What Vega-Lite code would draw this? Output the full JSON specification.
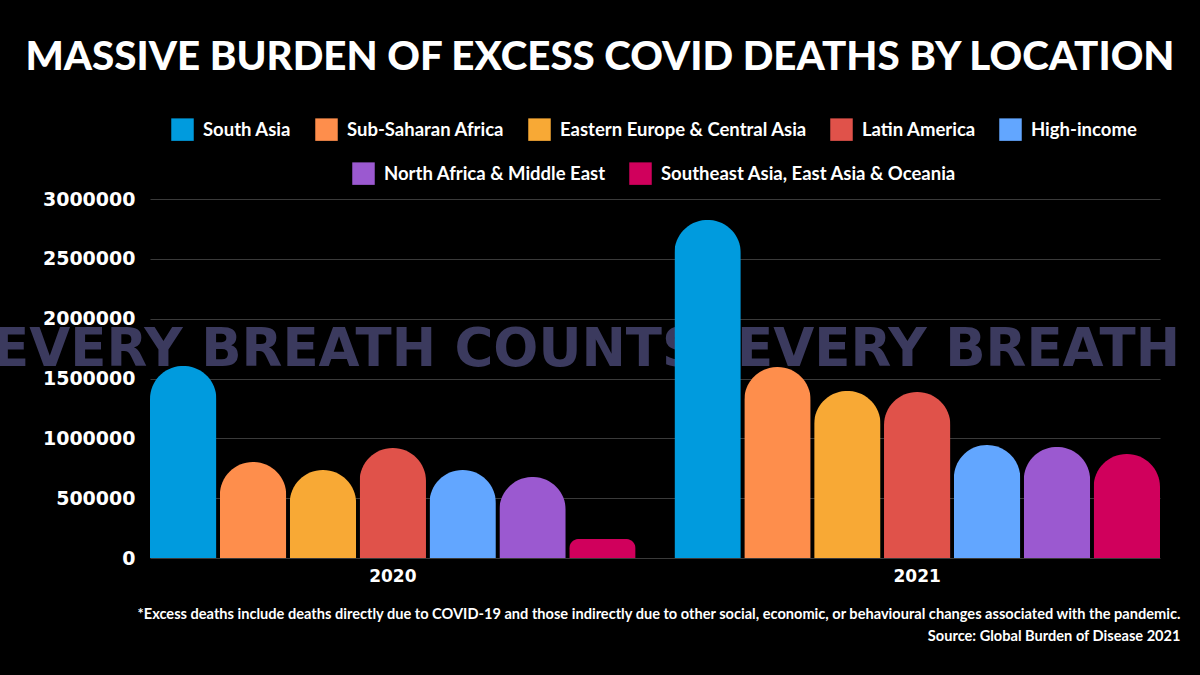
{
  "$schema": "https://vega.github.io/schema/vega-lite/v6.json",
  "width": 1010,
  "height": 359,
  "autosize": {"type": "none"},
  "padding": {"left": 150, "top": 199, "right": 40, "bottom": 117},
  "background": "#000000",
  "config": {"view": {"stroke": null}, "font": "Lato"},
  "title": {
    "text": "MASSIVE BURDEN OF EXCESS COVID DEATHS BY LOCATION",
    "font": "Lato",
    "fontWeight": 900,
    "fontSize": 40.3,
    "color": "#ffffff",
    "anchor": "middle",
    "frame": "group",
    "baseline": "middle",
    "dx": -55,
    "dy": -16
  },
  "data": {
    "values": [
      {"year": "2020", "region": "South Asia", "deaths": 1605000},
      {"year": "2020", "region": "Sub-Saharan Africa", "deaths": 802000},
      {"year": "2020", "region": "Eastern Europe & Central Asia", "deaths": 735000},
      {"year": "2020", "region": "Latin America", "deaths": 919000},
      {"year": "2020", "region": "High-income", "deaths": 735000},
      {"year": "2020", "region": "North Africa & Middle East", "deaths": 677000},
      {"year": "2020", "region": "Southeast Asia, East Asia & Oceania", "deaths": 159000},
      {"year": "2021", "region": "South Asia", "deaths": 2825000},
      {"year": "2021", "region": "Sub-Saharan Africa", "deaths": 1596000},
      {"year": "2021", "region": "Eastern Europe & Central Asia", "deaths": 1396000},
      {"year": "2021", "region": "Latin America", "deaths": 1387000},
      {"year": "2021", "region": "High-income", "deaths": 944000},
      {"year": "2021", "region": "North Africa & Middle East", "deaths": 928000},
      {"year": "2021", "region": "Southeast Asia, East Asia & Oceania", "deaths": 869000}
    ]
  },
  "encoding": {
    "x": {
      "field": "year",
      "type": "nominal",
      "scale": {"domain": ["2020", "2021"], "paddingInner": 0.074, "paddingOuter": 0},
      "axis": {
        "labelAngle": 0,
        "labelFont": "DejaVu Sans",
        "labelFontSize": 17,
        "labelFontWeight": "bold",
        "labelColor": "#ffffff",
        "labelPadding": 10,
        "ticks": false,
        "domain": false,
        "title": ["*Excess deaths include deaths directly due to COVID-19 and those indirectly due to other social, economic, or behavioural changes associated with the pandemic.", "Source: Global Burden of Disease 2021"],
        "titleFont": "Lato",
        "titleFontSize": 14.6,
        "titleFontWeight": "bold",
        "titleColor": "#ffffff",
        "titleAnchor": "end",
        "titleAlign": "right",
        "titleBaseline": "top",
        "titleLineHeight": 22,
        "titleX": 1030,
        "titleY": 48
      }
    },
    "y": {
      "field": "deaths",
      "type": "quantitative",
      "scale": {"domain": [0, 3000000], "nice": false},
      "axis": {
        "values": [0, 500000, 1000000, 1500000, 2000000, 2500000, 3000000],
        "format": "d",
        "labelFont": "DejaVu Sans",
        "labelFontSize": 19,
        "labelFontWeight": "bold",
        "labelColor": "#ffffff",
        "labelPadding": 15,
        "ticks": false,
        "domain": false,
        "gridColor": "#3a3a3a",
        "gridWidth": 1,
        "title": null
      }
    }
  },
  "layer": [
    {
      "data": {"values": [{"year": "2020", "deaths": 1735000, "wm": "EVERY BREATH COUNTS \u00a0EVERY BREATH COUNTS"}]},
      "mark": {"type": "text", "align": "left", "baseline": "middle", "dx": -157, "font": "DejaVu Sans", "fontWeight": "bold", "fontSize": 53, "color": "#3b3a5e"},
      "encoding": {
        "x": {"field": "year", "type": "nominal", "bandPosition": 0},
        "text": {"field": "wm"}
      }
    },
    {
      "transform": [{"filter": {"field": "region", "oneOf": ["South Asia", "Sub-Saharan Africa", "Eastern Europe & Central Asia", "Latin America", "High-income"]}}],
      "mark": {"type": "bar", "cornerRadiusTopLeft": 33, "cornerRadiusTopRight": 33},
      "encoding": {
        "xOffset": {"field": "region", "type": "nominal", "scale": {"domain": ["South Asia", "Sub-Saharan Africa", "Eastern Europe & Central Asia", "Latin America", "High-income", "North Africa & Middle East", "Southeast Asia, East Asia & Oceania"], "paddingInner": 0.05, "paddingOuter": 0}},
        "color": {
          "field": "region",
          "type": "nominal",
          "scale": {"domain": ["South Asia", "Sub-Saharan Africa", "Eastern Europe & Central Asia", "Latin America", "High-income"], "range": ["#009bde", "#fe8e4c", "#f8a935", "#e0524a", "#62a6ff"]},
          "legend": {
            "orient": "none", "legendX": 21, "legendY": -81, "direction": "horizontal", "title": null,
            "symbolType": "square", "symbolSize": 506, "symbolStrokeWidth": 0, "symbolOpacity": 1,
            "labelFontSize": 18.5, "labelFontWeight": "bold", "labelColor": "#ffffff", "labelOffset": 9, "labelLimit": 400,
            "columnPadding": 23
          }
        }
      }
    },
    {
      "transform": [{"filter": {"field": "region", "oneOf": ["North Africa & Middle East", "Southeast Asia, East Asia & Oceania"]}}],
      "mark": {"type": "bar", "cornerRadiusTopLeft": 33, "cornerRadiusTopRight": 33},
      "encoding": {
        "xOffset": {"field": "region", "type": "nominal", "scale": {"domain": ["South Asia", "Sub-Saharan Africa", "Eastern Europe & Central Asia", "Latin America", "High-income", "North Africa & Middle East", "Southeast Asia, East Asia & Oceania"], "paddingInner": 0.05, "paddingOuter": 0}},
        "color": {
          "field": "region",
          "type": "nominal",
          "scale": {"domain": ["North Africa & Middle East", "Southeast Asia, East Asia & Oceania"], "range": ["#9b59d0", "#d0005c"]},
          "legend": {
            "orient": "none", "legendX": 202, "legendY": -37, "direction": "horizontal", "title": null,
            "symbolType": "square", "symbolSize": 506, "symbolStrokeWidth": 0, "symbolOpacity": 1,
            "labelFontSize": 18.5, "labelFontWeight": "bold", "labelColor": "#ffffff", "labelOffset": 9, "labelLimit": 400,
            "columnPadding": 23
          }
        }
      }
    }
  ],
  "resolve": {"scale": {"color": "independent"}}
}
